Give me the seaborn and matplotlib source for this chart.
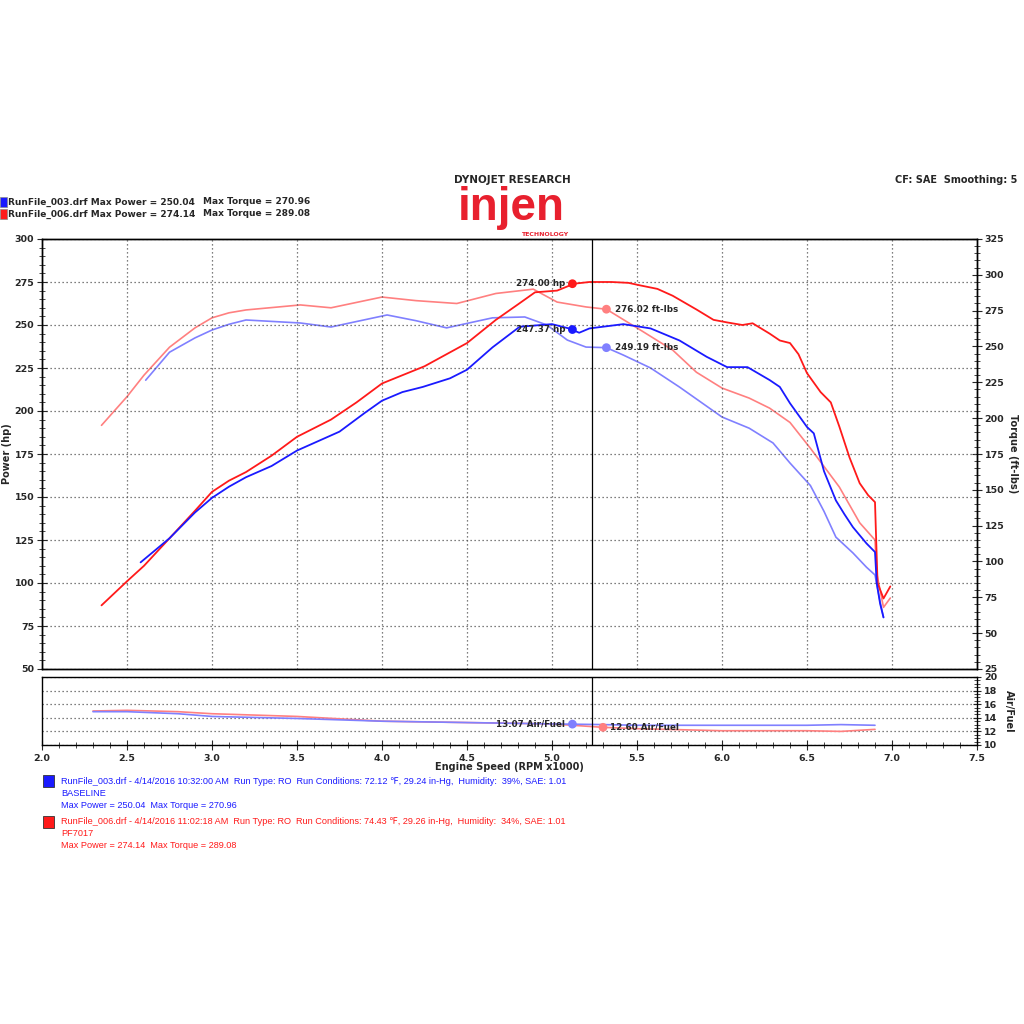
import numpy as np
import pandas as pd
import seaborn as sns
import matplotlib.pyplot as plt
from matplotlib.ticker import MultipleLocator
from matplotlib.patches import Rectangle

# --- data (rpm in x1000) ---
red_hp_rpm = [2.35, 2.5, 2.6, 2.75, 2.9, 3.0, 3.1, 3.2, 3.35, 3.5, 3.7, 3.85, 4.0, 4.25, 4.5, 4.67, 4.8, 4.9,
              5.03, 5.13, 5.22, 5.35, 5.45, 5.52, 5.62, 5.71, 5.85, 5.95, 6.03, 6.12, 6.18, 6.28, 6.34, 6.4,
              6.45, 6.5, 6.58, 6.64, 6.69, 6.75, 6.81, 6.86, 6.9, 6.905, 6.915, 6.95, 6.99]
red_hp = [87, 101, 110, 126, 142, 153, 159.5, 164.5, 174, 185, 195, 205, 216, 226, 239.5, 253, 262, 269,
          270, 274, 275, 275, 274.5, 273, 271, 267, 259, 253, 251.5, 250, 251, 245, 241, 239.5,
          233, 222, 211, 205, 191, 173, 158, 151, 147, 131, 100, 91, 98]

blue_hp_rpm = [2.58, 2.75, 2.9, 3.0, 3.1, 3.2, 3.35, 3.5, 3.75, 3.9, 4.0, 4.12, 4.24, 4.4, 4.5, 4.65, 4.81,
               5.0, 5.1, 5.16, 5.22, 5.42, 5.58, 5.75, 5.91, 6.03, 6.15, 6.28, 6.34, 6.4, 6.5, 6.54, 6.6,
               6.67, 6.72, 6.77, 6.85, 6.9, 6.91, 6.93, 6.95]
blue_hp = [112, 126, 141, 149.5, 156, 161.5, 168, 177, 188, 199, 206, 211, 214, 219, 224, 237, 249,
           250.5, 248, 245.5, 248, 250.5, 248, 241, 231.5, 225.5, 225.5, 218, 214, 204.5, 190.7, 187, 165,
           148, 140, 132.5, 123, 118, 100, 88, 80]

red_tq_rpm = [2.35, 2.5, 2.6, 2.75, 2.9, 3.0, 3.1, 3.2, 3.52, 3.7, 4.0, 4.2, 4.44, 4.67, 4.89, 5.03, 5.2,
              5.32, 5.52, 5.71, 5.85, 6.0, 6.16, 6.28, 6.4, 6.52, 6.69, 6.81, 6.9, 6.91, 6.95, 6.99]
red_tq = [195, 215, 230, 249.5, 263, 270, 273.5, 275.5, 279, 277, 284.5, 282, 280, 287, 290, 281, 277.6,
          276, 261.5, 247.5, 232, 221, 214, 207, 197, 179, 152, 127, 115, 92, 68, 74.5]

blue_tq_rpm = [2.61, 2.75, 2.9, 3.0, 3.1, 3.2, 3.52, 3.7, 4.03, 4.2, 4.38, 4.65, 4.84, 4.97, 5.09, 5.2,
               5.32, 5.42, 5.58, 5.75, 6.0, 6.16, 6.3, 6.4, 6.52, 6.6, 6.67, 6.77, 6.85, 6.9, 6.93, 6.95]
blue_tq = [226.5, 246, 256, 261.5, 265.5, 268.5, 266.4, 263.6, 272, 268, 263, 270, 270.6, 265, 254.5,
           249.6, 249.2, 244, 235, 221.7, 200.8, 193, 182.7, 168.7, 153, 135, 117, 106, 96, 90.6, 72, 61]

afr_rpm = [2.3, 2.5, 2.8, 3.0, 3.5, 4.0, 4.5, 5.0, 5.3, 5.5, 6.0, 6.5, 6.7, 6.9]
red_afr = [15.0, 15.1, 14.9, 14.6, 14.2, 13.5, 13.3, 13.1, 12.6, 12.4, 12.1, 12.1, 12.0, 12.3]
blue_afr = [14.9, 14.9, 14.6, 14.2, 13.9, 13.5, 13.3, 13.1, 13.0, 12.9, 12.9, 12.9, 13.0, 12.9]

cursor_rpm = 5.235
hp_mark_rpm = 5.12
tq_mark_rpm = 5.32
hp_marks = [274.00, 247.37]
tq_marks = [276.02, 249.19]
afr_marks = [13.07, 12.60]
afr_mark_rpm = [5.12, 5.3]

RED = "#ff1a1a"
BLUE = "#1a1aff"
LRED = "#ff8080"
LBLUE = "#8080ff"

hp_df = pd.concat([
    pd.DataFrame({"rpm": red_hp_rpm, "val": red_hp, "run": "PF7017"}),
    pd.DataFrame({"rpm": blue_hp_rpm, "val": blue_hp, "run": "BASELINE"}),
])
tq_df = pd.concat([
    pd.DataFrame({"rpm": red_tq_rpm, "val": red_tq, "run": "PF7017"}),
    pd.DataFrame({"rpm": blue_tq_rpm, "val": blue_tq, "run": "BASELINE"}),
])
afr_df = pd.concat([
    pd.DataFrame({"rpm": afr_rpm, "val": red_afr, "run": "PF7017"}),
    pd.DataFrame({"rpm": afr_rpm, "val": blue_afr, "run": "BASELINE"}),
])

sns.set_style("white")
plt.rcParams['font.family'] = ['DejaVu Sans']

fig = plt.figure(figsize=(10.24, 10.24), dpi=100)
ax = fig.add_axes([42/1024, 1-669/1024, 935/1024, 430/1024])
ax2 = ax.twinx()
ax3 = fig.add_axes([42/1024, 1-745/1024, 935/1024, 68/1024])

sns.lineplot(data=tq_df, x="rpm", y="val", hue="run", palette={"PF7017": LRED, "BASELINE": LBLUE},
             sort=False, estimator=None, lw=1.2, legend=False, ax=ax2)
sns.lineplot(data=hp_df, x="rpm", y="val", hue="run", palette={"PF7017": RED, "BASELINE": BLUE},
             sort=False, estimator=None, lw=1.3, legend=False, ax=ax)
ax.set_zorder(ax2.get_zorder() + 1)
ax.patch.set_visible(False)
sns.lineplot(data=afr_df, x="rpm", y="val", hue="run", palette={"PF7017": LRED, "BASELINE": LBLUE},
             sort=False, estimator=None, lw=1.2, legend=False, ax=ax3)

# cursor and values
ax.axvline(cursor_rpm, color="black", lw=0.9)
ax3.axvline(cursor_rpm, color="black", lw=0.9)
sns.scatterplot(x=[hp_mark_rpm]*2, y=hp_marks, hue=["a", "b"], palette=[RED, BLUE], s=40,
                edgecolor="none", legend=False, ax=ax, zorder=5)
sns.scatterplot(x=[tq_mark_rpm]*2, y=tq_marks, hue=["a", "b"], palette=[LRED, LBLUE], s=40,
                edgecolor="none", legend=False, ax=ax2, zorder=5)
sns.scatterplot(x=afr_mark_rpm, y=afr_marks, hue=["a", "b"], palette=[LBLUE, LRED], s=40,
                edgecolor="none", legend=False, ax=ax3, zorder=5)
for v in hp_marks:
    ax.annotate(f"{v:.2f} hp", (hp_mark_rpm, v), xytext=(-5, 0), textcoords="offset points",
                ha="right", va="center", fontsize=6.3, weight="bold", zorder=6)
for v in tq_marks:
    ax2.annotate(f"{v:.2f} ft-lbs", (tq_mark_rpm, v), xytext=(6, 0), textcoords="offset points",
                 ha="left", va="center", fontsize=6.3, weight="bold")
ax3.annotate(f"{afr_marks[0]:.2f} Air/Fuel", (afr_mark_rpm[0], afr_marks[0]), xytext=(-5, 0),
             textcoords="offset points", ha="right", va="center", fontsize=6.3, weight="bold")
ax3.annotate(f"{afr_marks[1]:.2f} Air/Fuel", (afr_mark_rpm[1], afr_marks[1]), xytext=(5, 0),
             textcoords="offset points", ha="left", va="center", fontsize=6.3, weight="bold")

# axes setup
grid_kw = dict(color="#555555", lw=0.9, linestyle=(0, (1, 2.2)))
ax.set_xlim(2.0, 7.5)
ax.set_ylim(50, 300)
ax2.set_ylim(25, 325)
ax.xaxis.set_major_locator(MultipleLocator(0.5))
ax.yaxis.set_major_locator(MultipleLocator(25))
ax.yaxis.set_minor_locator(MultipleLocator(5))
ax2.yaxis.set_major_locator(MultipleLocator(25))
ax2.yaxis.set_minor_locator(MultipleLocator(5))
ax.grid(True, which="major", **grid_kw)
ax.tick_params(axis="x", bottom=False, labelbottom=False)
ax.tick_params(axis="y", which="major", direction="inout", length=7, width=0.8, labelsize=6.8, pad=2)
ax.tick_params(axis="y", which="minor", direction="inout", length=4, width=0.6, left=True)
ax2.tick_params(axis="y", which="major", direction="inout", length=7, width=0.8, labelsize=6.8, pad=2)
ax2.tick_params(axis="y", which="minor", direction="inout", length=4, width=0.6, right=True)
for lab in ax.get_yticklabels() + ax2.get_yticklabels():
    lab.set_fontweight("bold")
ax.set_xlabel("")
ax.set_ylabel("Power (hp)", fontsize=7, weight="bold", labelpad=2)
ax2.set_ylabel("Torque (ft-lbs)", fontsize=7, weight="bold", rotation=-90, labelpad=10)

ax3.set_xlim(2.0, 7.5)
ax3.set_ylim(10, 20)
ax3.xaxis.set_major_locator(MultipleLocator(0.5))
ax3.xaxis.set_minor_locator(MultipleLocator(0.1))
ax3.yaxis.set_minor_locator(MultipleLocator(0.5))
ax3.yaxis.tick_right()
ax3.yaxis.set_label_position("right")
ax3.set_yticks([12, 14, 16, 18])
ax3.grid(True, which="major", axis="y", **grid_kw)
ax3.set_yticks([10, 12, 14, 16, 18, 20])
ax3.tick_params(axis="y", which="major", direction="inout", length=6, width=0.8, labelsize=6.8, pad=2, right=True)
ax3.tick_params(axis="y", which="minor", direction="inout", length=4, width=0.6, right=True)
ax3.tick_params(axis="x", which="major", direction="inout", length=7, width=0.8, labelsize=6.8, pad=3, bottom=True)
ax3.tick_params(axis="x", which="minor", direction="inout", length=4, width=0.6, bottom=True)
for lab in ax3.get_yticklabels() + ax3.get_xticklabels():
    lab.set_fontweight("bold")
ax3.xaxis.set_major_formatter(plt.FormatStrFormatter("%.1f"))
ax3.set_ylabel("Air/Fuel", fontsize=7, weight="bold", rotation=-90, labelpad=12)
ax3.set_xlabel("Engine Speed (RPM x1000)", fontsize=7, weight="bold", labelpad=-1)

for a in (ax, ax2, ax3):
    for s in a.spines.values():
        s.set_color("black")
        s.set_linewidth(1.0)

# header texts
fig.text(8/1024, 1-202/1024, "RunFile_003.drf Max Power = 250.04", fontsize=6.5, weight="bold", va="center")
fig.text(203/1024, 1-202/1024, "Max Torque = 270.96", fontsize=6.5, weight="bold", va="center")
fig.text(8/1024, 1-214/1024, "RunFile_006.drf Max Power = 274.14", fontsize=6.5, weight="bold", va="center")
fig.text(203/1024, 1-214/1024, "Max Torque = 289.08", fontsize=6.5, weight="bold", va="center")
fig.add_artist(Rectangle((0, 1-207/1024), 7/1024, 10/1024, transform=fig.transFigure,
                         facecolor=BLUE, edgecolor="#888888", lw=0.5))
fig.add_artist(Rectangle((0, 1-219/1024), 7/1024, 10/1024, transform=fig.transFigure,
                         facecolor=RED, edgecolor="#888888", lw=0.5))
fig.text(1017/1024, 1-180/1024, "CF: SAE  Smoothing: 5", fontsize=7, weight="bold", ha="right", va="center")

# logo
fig.text(512/1024, 1-180/1024, "DYNOJET RESEARCH", fontsize=7.5, weight="bold", ha="center", va="center")
fig.text(511/1024, 1-208/1024, "injen", fontsize=33, weight="bold", color="#e8202e", ha="center",
         va="center", family="Liberation Sans")
fig.text(545/1024, 1-234.5/1024, "TECHNOLOGY", fontsize=4.5, weight="bold", color="#e8202e", ha="center",
         va="center")

# run legend at bottom
info = [
    (BLUE, 781, ["RunFile_003.drf - 4/14/2016 10:32:00 AM  Run Type: RO  Run Conditions: 72.12 \u2109, 29.24 in-Hg,  Humidity:  39%, SAE: 1.01",
                 "BASELINE", "Max Power = 250.04  Max Torque = 270.96"]),
    (RED, 822, ["RunFile_006.drf - 4/14/2016 11:02:18 AM  Run Type: RO  Run Conditions: 74.43 \u2109, 29.26 in-Hg,  Humidity:  34%, SAE: 1.01",
                "PF7017", "Max Power = 274.14  Max Torque = 289.08"]),
]
for color, y0, lines in info:
    fig.add_artist(Rectangle((43/1024, 1-(y0+6)/1024), 11/1024, 12/1024, transform=fig.transFigure,
                             facecolor=color, edgecolor="#333333", lw=0.6))
    for i, line in enumerate(lines):
        fig.text(61/1024, 1-(y0+12*i)/1024, line, fontsize=6.6, color=color, va="center",
                 family=["Liberation Sans", "DejaVu Sans"])

fig.savefig("out.png", dpi=100, facecolor="white")
